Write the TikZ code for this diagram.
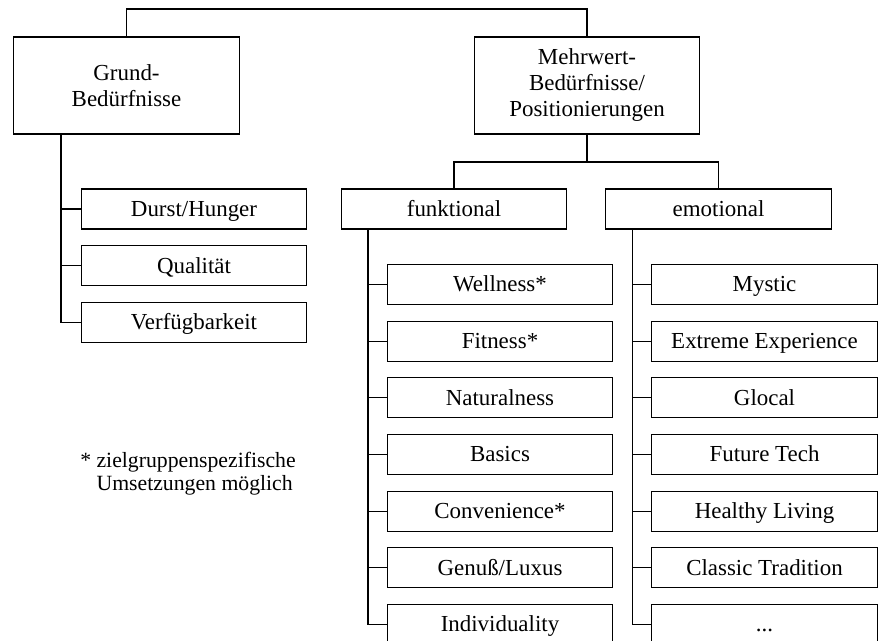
\documentclass[tikz,border=0pt]{standalone}
\usepackage{fontspec}
\setmainfont{Liberation Serif}
\usepackage{tikz}
\usetikzlibrary{positioning}
\tikzset{
  topbox/.style={draw, line width=0.9pt, minimum width=169pt, minimum height=72.75pt, align=center, inner sep=2pt},
  itembox/.style={draw, line width=0.9pt, minimum width=169pt, minimum height=30pt, text height=12.5pt, text depth=1.5pt, inner sep=2pt},
  link/.style={line width=0.9pt},
}

\begin{document}
\begin{tikzpicture}[x=0.75pt, y=-0.75pt, font=\fontsize{17.2}{19.5}\selectfont]
    \fill[white] (0,0) rectangle (887,641);
    \useasboundingbox (0,0) rectangle (887,641);

    % Two main groups
    \node[topbox] (grund) at (126.5,85.5) {Grund-\\Bedürfnisse};
    \node[topbox] (mehr) at (587,85.5) {Mehrwert-\\Bedürfnisse/\\Positionierungen};
    \node[itembox] (funk) at (454,209) {funktional};
    \node[itembox] (emo) at (718.5,209) {emotional};

    % Grund-Bedürfnisse
    \node[itembox] (g1) at (194,209) {Durst/Hunger};
    \node[itembox, below=11.6pt of g1] (g2) {Qualität};
    \node[itembox, below=11.6pt of g2] (g3) {Verfügbarkeit};

    % funktional
    \node[itembox] (f1) at (500,284.5) {Wellness*};
    \node[itembox, below=11.6pt of f1] (f2) {Fitness*};
    \node[itembox, below=11.6pt of f2] (f3) {Naturalness};
    \node[itembox, below=11.6pt of f3] (f4) {Basics};
    \node[itembox, below=11.6pt of f4] (f5) {Convenience*};
    \node[itembox, below=11.6pt of f5] (f6) {Genuß/Luxus};
    \node[itembox, below=11.6pt of f6] (f7) {Individuality};

    % emotional
    \node[itembox] (e1) at (764.5,284.5) {Mystic};
    \node[itembox, below=11.6pt of e1] (e2) {Extreme Experience};
    \node[itembox, below=11.6pt of e2] (e3) {Glocal};
    \node[itembox, below=11.6pt of e3] (e4) {Future Tech};
    \node[itembox, below=11.6pt of e4] (e5) {Healthy Living};
    \node[itembox, below=11.6pt of e5] (e6) {Classic Tradition};
    \node[itembox, below=11.6pt of e6] (e7) {...};

    % Footnote
    \node[anchor=north west, inner sep=0, align=left, font=\fontsize{16.3}{17.5}\selectfont] (note) at (80,452)
        {* zielgruppenspezifische\\\hphantom{* }Umsetzungen möglich};

    % Connectors
    \coordinate (top) at (587,9);
    \coordinate (split) at (587,162);
    \coordinate (gtrunk) at (61,0);
    \coordinate (ftrunk) at (368,0);
    \coordinate (etrunk) at (632.5,0);
    \draw[link] (grund.north) |- (top) -- (mehr.north);
    \draw[link] (mehr.south) -- (split);
    \draw[link] (funk.north) |- (split) -| (emo.north);

    \draw[link] (grund.south -| gtrunk) |- (g3.west);
    \foreach \n in {g1,g2}
        \draw[link] (\n.west) -- (\n.west -| gtrunk);
    \draw[link] (funk.south -| ftrunk) |- (f7.west);
    \foreach \n in {f1,f2,f3,f4,f5,f6}
        \draw[link] (\n.west) -- (\n.west -| ftrunk);
    \draw[link] (emo.south -| etrunk) |- (e7.west);
    \foreach \n in {e1,e2,e3,e4,e5,e6}
        \draw[link] (\n.west) -- (\n.west -| etrunk);
\end{tikzpicture}
\end{document}
